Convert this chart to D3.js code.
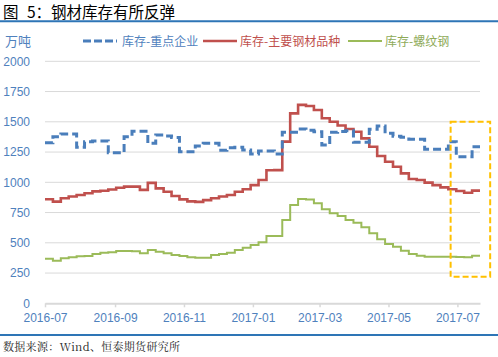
<!DOCTYPE html>
<html><head><meta charset="utf-8">
<script src="https://cdn.jsdelivr.net/npm/d3@7/dist/d3.min.js"></script>
<style>
html,body{margin:0;padding:0;background:#fff;}
svg{display:block;}
text{white-space:pre;}
</style></head>
<body>
<svg id="chart" width="498" height="357"></svg>
<script>
const dates = [
"2016-07-01","2016-07-08","2016-07-15","2016-07-22","2016-07-29","2016-08-05","2016-08-12","2016-08-19",
"2016-08-26","2016-09-02","2016-09-09","2016-09-16","2016-09-23","2016-09-30","2016-10-07","2016-10-14",
"2016-10-21","2016-10-28","2016-11-04","2016-11-11","2016-11-18","2016-11-25","2016-12-02","2016-12-09",
"2016-12-16","2016-12-23","2016-12-30","2017-01-06","2017-01-13","2017-01-20","2017-01-27","2017-02-03",
"2017-02-10","2017-02-17","2017-02-24","2017-03-03","2017-03-10","2017-03-17","2017-03-24","2017-03-31",
"2017-04-07","2017-04-14","2017-04-21","2017-04-28","2017-05-05","2017-05-12","2017-05-19","2017-05-26",
"2017-06-02","2017-06-09","2017-06-16","2017-06-23","2017-06-30","2017-07-07","2017-07-14","2017-07-21"];

// 库存-重点企业
const keyEnterprise = [
1327,1377,1400,1400,1289,1336,1341,1341,1245,1245,1377,1421,1421,1322,1391,1382,
1370,1253,1253,1300,1322,1322,1265,1285,1289,1267,1234,1259,1259,1234,1413,1413,
1440,1430,1418,1308,1413,1420,1427,1330,1330,1438,1465,1405,1380,1372,1355,1355,
1273,1273,1273,1336,1212,1212,1294,1294];

// 库存-主要钢材品种
const mainVarieties = [
860,840,868,883,895,909,925,930,941,955,964,964,937,995,950,922,
887,859,842,838,853,868,883,895,922,942,977,1019,1100,1101,1336,1570,
1640,1630,1597,1529,1500,1470,1440,1418,1363,1294,1217,1170,1129,1074,1027,1019,
997,977,958,942,928,914,931,931];

// 库存-螺纹钢
const rebar = [
368,352,372,380,388,391,407,418,421,432,432,430,413,440,427,413,
399,391,380,377,377,399,407,418,440,460,482,505,556,556,688,812,
862,858,826,777,744,721,688,666,628,578,529,490,468,435,407,393,
385,385,385,384,382,380,393,393];

const yTicks = [0,250,500,750,1000,1250,1500,1750,2000];
const xTickLabels = ["2016-07","2016-09","2016-11","2017-01","2017-03","2017-05","2017-07"];
const seriesNames = ["库存-重点企业","库存-主要钢材品种","库存-螺纹钢"];
const seriesColors = ["#4A7EBB","#C0504D","#9BBB59"];
const textColors = ["#4F81BD","#C0504D","#8EAA58"];
const highlight = {from:"2017-06-25", to:"2017-07-30", top:1500, bottom:220};

const parse = d3.timeParse("%Y-%m-%d");
const parseM = d3.timeParse("%Y-%m");
const dts = dates.map(parse);

const svg = d3.select("#chart");
const cjk = "'Noto Sans CJK SC','Microsoft YaHei',sans-serif";
const lat = "'Liberation Sans',Arial,sans-serif";

const x = d3.scaleTime().domain([parse("2016-07-01"), parse("2017-07-21")]).range([45, 480]);
const y = d3.scaleLinear().domain([0, 2000]).range([303.3, 61.3]);

// title
const title = svg.append("text").attr("x", 3).attr("y", 18.3)
  .attr("font-family", cjk).attr("font-size", 15.5).attr("fill", "#000");
title.append("tspan").text("图");
title.append("tspan").attr("dx", 5).text(" 5：钢材库存有所反弹");
svg.append("line").attr("x1", 0).attr("x2", 498).attr("y1", 21.3).attr("y2", 21.3)
  .attr("stroke", "#2E75B6").attr("stroke-width", 2);
svg.append("line").attr("x1", 0).attr("x2", 498).attr("y1", 335).attr("y2", 335)
  .attr("stroke", "#2E75B6").attr("stroke-width", 2);
svg.append("text").attr("x", 3).attr("y", 351).text("数据来源：Wind、恒泰期货研究所")
  .attr("font-family", "'Noto Serif CJK SC','Noto Sans CJK SC',serif").attr("font-size", 11)
  .attr("letter-spacing", 0.3).attr("fill", "#222");

// unit
svg.append("text").attr("x", 5).attr("y", 46).text("万吨")
  .attr("font-family", cjk).attr("font-size", 13).attr("fill", "#4F81BD");

// grid
svg.append("g").selectAll("line").data(yTicks.filter(d => d > 0)).join("line")
  .attr("x1", 45).attr("x2", 480).attr("y1", d => y(d)).attr("y2", d => y(d))
  .attr("stroke", "#D9D9D9").attr("stroke-width", 1);

// y axis labels
const yAxis = d3.axisLeft(y).tickValues(yTicks).tickFormat(d3.format("d")).tickSize(0).tickPadding(0);
const gy = svg.append("g").attr("transform", "translate(30,0)").call(yAxis);
gy.select(".domain").remove();
gy.selectAll("text").attr("font-family", lat).attr("font-size", 12).attr("fill", "#4F81BD");

// x axis
const xAxis = d3.axisBottom(x).tickValues(xTickLabels.map(parseM))
  .tickFormat(d3.timeFormat("%Y-%m")).tickSize(4).tickSizeOuter(0).tickPadding(6);
const gx = svg.append("g").attr("transform", `translate(0,${y(0)})`).call(xAxis);
gx.select(".domain").attr("stroke", "#D9D9D9").attr("stroke-width", 2);
gx.selectAll(".tick line").attr("stroke", "#D9D9D9").attr("stroke-width", 1.5);
gx.selectAll("text").attr("font-family", lat).attr("font-size", 12).attr("fill", "#4F81BD");

// lines
const allSeries = [keyEnterprise, mainVarieties, rebar];
const line = d3.line().x((d, i) => x(dts[i])).y(d => y(d)).curve(d3.curveStepAfter);
const widths = [3, 2.6, 2];
const dashes = ["8,4", null, null];
[1, 2, 0].forEach(k => {
  svg.append("path").datum(allSeries[k]).attr("d", line)
    .attr("fill", "none").attr("stroke", seriesColors[k]).attr("stroke-width", widths[k])
    .attr("stroke-dasharray", dashes[k]).attr("stroke-linejoin", "miter");
});

// highlight box
svg.append("rect")
  .attr("x", x(parse(highlight.from))).attr("y", y(highlight.top))
  .attr("width", x(parse(highlight.to)) - x(parse(highlight.from)))
  .attr("height", y(highlight.bottom) - y(highlight.top))
  .attr("fill", "none").attr("stroke", "#FFC000").attr("stroke-width", 2).attr("stroke-dasharray", "6,3");

// legend
const legendX = [83, 203, 348];
seriesNames.forEach((name, k) => {
  svg.append("line").attr("x1", legendX[k]).attr("x2", legendX[k] + 34).attr("y1", 41).attr("y2", 41)
    .attr("stroke", seriesColors[k]).attr("stroke-width", widths[k])
    .attr("stroke-dasharray", k === 0 ? "8,3" : null);
  svg.append("text").attr("x", legendX[k] + (k === 0 ? 39 : 37)).attr("y", 45.5).text(name)
    .attr("font-family", cjk).attr("font-size", 12).attr("fill", textColors[k]);
});
</script>
</body></html>
